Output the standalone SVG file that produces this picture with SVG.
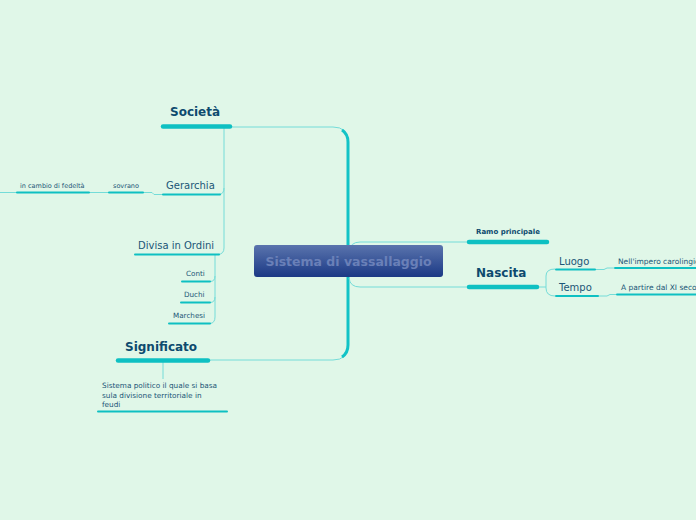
<svg xmlns="http://www.w3.org/2000/svg" width="696" height="520" viewBox="0 0 696 520">
<defs>
<linearGradient id="cg" x1="0" y1="0" x2="0" y2="1">
<stop offset="0" stop-color="#5a74ad"/>
<stop offset="1" stop-color="#1b3985"/>
</linearGradient>
<style>
.t{font-family:"DejaVu Sans",Verdana,sans-serif;fill:#1b5677}
.b{font-family:"DejaVu Sans",Verdana,sans-serif;font-weight:bold;fill:#0d4a6e}
.ln{fill:none;stroke:#74dcd8;stroke-width:1}
.thick{fill:none;stroke:#12c3c6;stroke-width:3}
.bar{stroke:#0ec0c2;stroke-linecap:round;fill:none}
.b4{stroke-width:4.5}
.b2{stroke-width:2}
</style>
</defs>
<rect width="696" height="520" fill="#e0f7e8"/>
<g id="connectors">
<path class="ln" d="M231,127 H333 Q348,127 348,142 V345 Q348,360 333,360 H209"/>
<path class="thick" d="M342,130 Q348,134 348,142 V345 Q348,353 342,357"/>
<path class="ln" d="M349,252 Q350,242 360,242 H467"/>
<path class="ln" d="M349,278 Q350,287 360,287 H467"/>
<path class="ln" d="M538,287 H546"/>
<path class="ln" d="M555,269 Q546,269 546,276 V288 Q546,296 555,296"/>
<path class="ln" d="M595,269.5 H604 L607,268 H614"/>
<path class="ln" d="M598,296 H607 L610,294.5 H616"/>
<path class="ln" d="M224,127 V248 Q224,254 218,254.5"/>
<path class="ln" d="M224,188 Q224,194 219,194.5"/>
<path class="ln" d="M163,194.5 H154 L152,192.5 H143"/>
<path class="ln" d="M109,192.5 H89"/>
<path class="ln" d="M17,192.5 H0"/>
<path class="ln" d="M215,255 V317 Q215,323 210,323.5"/>
<path class="ln" d="M215,276 Q215,281.5 210,281.5"/>
<path class="ln" d="M215,297 Q215,302.5 210,302.5"/>
<path class="ln" d="M163,362 V379"/>
</g>
<g id="center">
<rect x="254" y="245" width="189" height="32" rx="3" fill="url(#cg)"/>
<text class="b" x="348.5" y="266" font-size="12.5" text-anchor="middle" style="fill:#6a80b8">Sistema di vassallaggio</text>
</g>
<g id="societa">
<path class="bar b4" d="M163,126.5 H230"/>
<text class="b" x="170" y="116" font-size="12">Società</text>
</g>
<g id="gerarchia">
<path class="bar b2" d="M163,194.5 H220"/>
<text class="t" x="166" y="189" font-size="10">Gerarchia</text>
</g>
<g id="sovrano">
<path class="bar b2" d="M109,192.5 H143"/>
<text class="t" x="113" y="188" font-size="6.5">sovrano</text>
</g>
<g id="fedelta">
<path class="bar b2" d="M17,192.5 H89"/>
<text class="t" x="20" y="188" font-size="6.5">in cambio di fedeltà</text>
</g>
<g id="divisa">
<path class="bar b2" d="M135,254.5 H219"/>
<text class="t" x="138" y="249" font-size="10">Divisa in Ordini</text>
</g>
<g id="conti">
<path class="bar b2" d="M182,281.5 H210"/>
<text class="t" x="186" y="276" font-size="7.2">Conti</text>
</g>
<g id="duchi">
<path class="bar b2" d="M181,302.5 H210"/>
<text class="t" x="184" y="297" font-size="7.2">Duchi</text>
</g>
<g id="marchesi">
<path class="bar b2" d="M169,323.5 H210"/>
<text class="t" x="173" y="318" font-size="7.2">Marchesi</text>
</g>
<g id="significato">
<path class="bar b4" d="M118,360.5 H208"/>
<text class="b" x="125" y="351" font-size="12">Significato</text>
</g>
<g id="sistema-politico">
<path class="bar b2" d="M98,411.5 H227"/>
<text class="t" x="102" y="388" font-size="7.3">Sistema politico il quale si basa</text>
<text class="t" x="102" y="397.5" font-size="7.3">sula divisione territoriale in</text>
<text class="t" x="102" y="407" font-size="7.3">feudi</text>
</g>
<g id="ramo">
<path class="bar b4" d="M469,242 H547"/>
<text class="b" x="476" y="234" font-size="7">Ramo principale</text>
</g>
<g id="nascita">
<path class="bar b4" d="M469,287 H537"/>
<text class="b" x="476" y="277" font-size="12">Nascita</text>
</g>
<g id="luogo">
<path class="bar b2" d="M556,269.5 H595"/>
<text class="t" x="559" y="265" font-size="10">Luogo</text>
</g>
<g id="tempo">
<path class="bar b2" d="M556,296 H598"/>
<text class="t" x="559" y="291" font-size="10">Tempo</text>
</g>
<g id="impero">
<path class="bar b2" d="M615,268 H700"/>
<text class="t" x="618" y="263.5" font-size="7.5">Nell'impero carolingio</text>
</g>
<g id="partire">
<path class="bar b2" d="M617,294.5 H700"/>
<text class="t" x="621" y="290" font-size="7.5">A partire dal XI secolo</text>
</g>
</svg>
